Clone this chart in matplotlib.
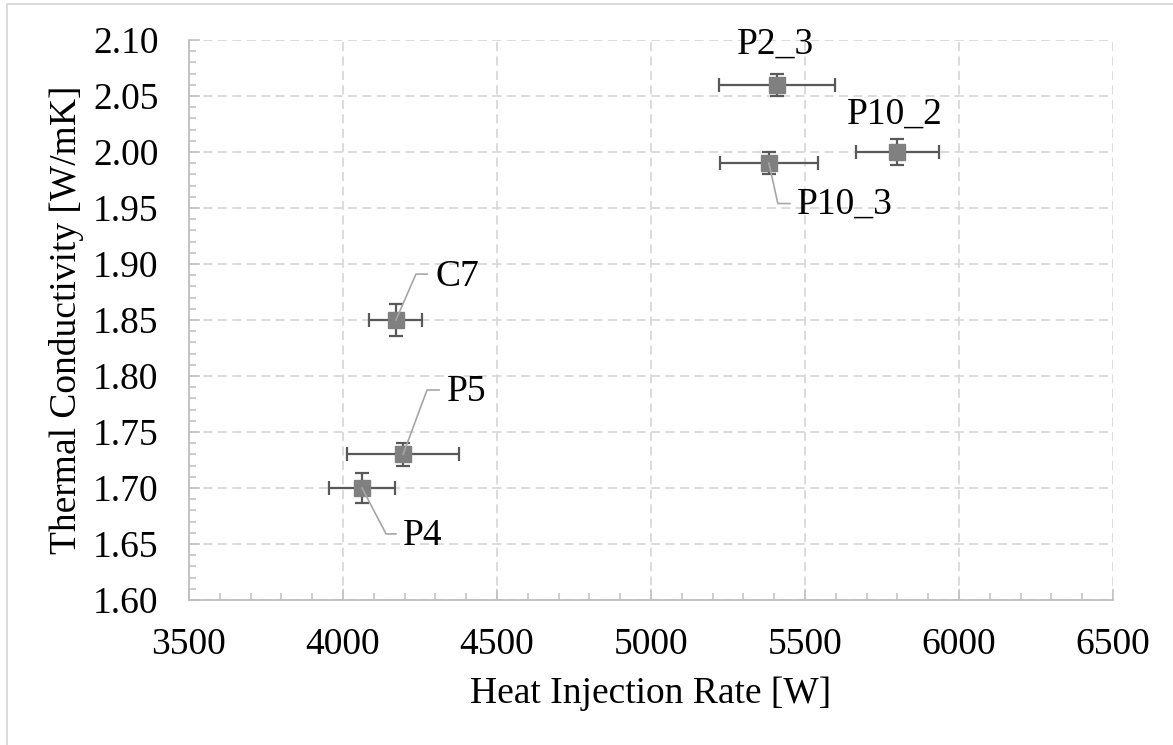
import matplotlib.pyplot as plt
from matplotlib.lines import Line2D
from matplotlib.ticker import MultipleLocator

# data
names = ['P4', 'P5', 'C7', 'P10_3', 'P2_3', 'P10_2']
heat = [4062, 4195, 4172, 5383, 5409, 5800]
heat_err = [107, 182, 86, 159, 187, 135]
cond = [1.70, 1.73, 1.85, 1.99, 2.06, 2.00]
cond_err = [0.013, 0.010, 0.014, 0.010, 0.010, 0.012]

# label placement: (elbow x, elbow y, end x, text x, text y) or None = label on top
leaders = {
    'P4':    (4140, 1.659, 4172, 4195, 1.657),
    'P5':    (4273, 1.7875, 4312, 4338, 1.786),
    'C7':    (4237, 1.891, 4273, 4299, 1.889),
    'P10_3': (5412, 1.954, 5451, 5474, 1.953),
}
tops = {
    'P2_3':  (5403, 2.096),
    'P10_2': (5792, 2.034),
}

plt.rcParams['font.family'] = ['Liberation Serif', 'DejaVu Serif']
fs = 27

fig = plt.figure(figsize=(11.73, 7.45), dpi=100)
ax = fig.add_axes([0.1611, 0.1946, 0.7877, 0.7517])

ax.errorbar(heat, cond, xerr=heat_err, yerr=cond_err, fmt='s', color='#808080',
            ms=11, ecolor='#595959', elinewidth=1.6, capsize=5, capthick=1.6, zorder=3)

for i, n in enumerate(names):
    if n in leaders:
        ex, ey, endx, tx, ty = leaders[n]
        ax.plot([heat[i], ex, endx], [cond[i], ey, ey], color='#a6a6a6', lw=1.2, zorder=4)
        ax.text(tx, ty, n, fontsize=fs, ha='left', va='center', color='black', zorder=5)
    else:
        tx, ty = tops[n]
        ax.text(tx, ty, n, fontsize=fs, ha='center', va='center', color='black', zorder=5)

ax.set_xlim(3500, 6500)
ax.set_ylim(1.60, 2.10)
ax.xaxis.set_major_locator(MultipleLocator(500))
ax.xaxis.set_minor_locator(MultipleLocator(100))
ax.yaxis.set_major_locator(MultipleLocator(0.05))
ax.yaxis.set_minor_locator(MultipleLocator(0.01))
ax.yaxis.set_major_formatter(plt.FormatStrFormatter('%.2f'))

ax.grid(True, which='major', color='#d9d9d9', linestyle=(0, (5, 3)), lw=1.3)
ax.set_axisbelow(True)
for s in ['top', 'right']:
    ax.spines[s].set_visible(False)
for s in ['left', 'bottom']:
    ax.spines[s].set_color('#bfbfbf')
    ax.spines[s].set_linewidth(1.3)

ax.tick_params(which='both', direction='in', color='#bfbfbf', labelsize=fs, width=1.1)
ax.tick_params(which='major', length=8)
ax.tick_params(which='minor', length=5)
ax.tick_params(axis='x', which='major', pad=20)
ax.tick_params(axis='y', which='major', pad=22)

ax.set_xlabel('Heat Injection Rate [W]', fontsize=fs, labelpad=10)
ax.set_ylabel('Thermal Conductivity [W/mK]', fontsize=fs, labelpad=6)

# outer chart frame (only top and left visible in the reference)
fig.lines.append(Line2D([0.006, 0.006, 1.0], [0.0, 0.994, 0.994], transform=fig.transFigure,
                        color='#d9d9d9', lw=1.3))

fig.savefig('out.png', dpi=100)
